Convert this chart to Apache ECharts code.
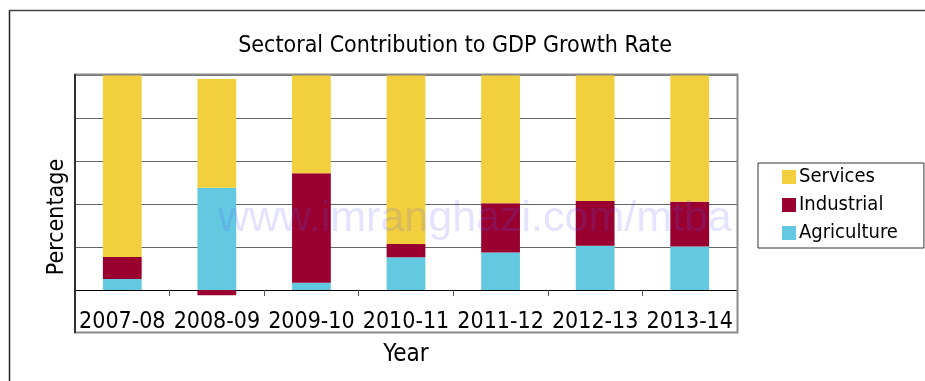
<!DOCTYPE html>
<html>
<head>
<meta charset="utf-8">
<script src="https://cdn.jsdelivr.net/npm/echarts@6/dist/echarts.min.js"></script>
<style>
  html, body { margin: 0; padding: 0; background: #fff; }
  #chart { width: 925px; height: 381px; }
</style>
</head>
<body>
<div id="chart"></div>
<script>
// Fiscal years on the category axis
var years = ['2007-08', '2008-09', '2009-10', '2010-11', '2011-12', '2012-13', '2013-14'];

// Share of GDP growth by sector (percent)
var agriculture = [5.1, 47.6, 3.4, 15.2, 17.4, 20.6, 20.2];
var industrial  = [10.2, -2.4, 50.9, 6.2, 22.9, 20.8, 20.9];
var services    = [84.7, 50.5, 45.7, 78.6, 59.7, 58.6, 58.9];

// Value axis range and step
var yMin = 0, yMax = 100, yStep = 20;

var NARROW = "'Liberation Sans Narrow', 'DejaVu Sans Condensed', 'Arial Narrow', sans-serif";
var COLORS = { services: '#F2CF3D', industrial: '#990030', agriculture: '#63C9E1' };

var chart = echarts.init(document.getElementById('chart'), null, { renderer: 'canvas' });

var barBase = { type: 'bar', stack: 'total', barWidth: '41%', clip: false };

chart.setOption({
  animation: false,
  backgroundColor: '#fff',
  title: {
    text: 'Sectoral Contribution to GDP Growth Rate',
    left: 450, textAlign: 'center', top: 30,
    textStyle: { fontFamily: NARROW, fontSize: 23, fontWeight: 'normal', color: '#000' }
  },
  legend: {
    data: ['Services', 'Industrial', 'Agriculture'],
    orient: 'vertical',
    left: 758, top: 163,
    padding: [4, 26, 5, 24],
    itemWidth: 14, itemHeight: 14, itemGap: 8,
    icon: 'rect',
    borderColor: '#333', borderWidth: 1,
    textStyle: { fontFamily: NARROW, fontSize: 20, lineHeight: 20, color: '#000', padding: [0, 0, 0, -2] }
  },
  grid: { left: 75, right: 188, top: 75, bottom: 91, containLabel: false },
  xAxis: {
    type: 'category',
    data: years,
    name: 'Year', nameLocation: 'middle', nameGap: 53,
    nameTextStyle: { fontFamily: NARROW, fontSize: 24, color: '#000' },
    axisLine: { onZero: true, lineStyle: { color: '#000', width: 1 } },
    axisTick: { show: true, length: 6, lineStyle: { color: '#555' } },
    axisLabel: { interval: 0, hideOverlap: false, margin: 21, fontFamily: NARROW, fontSize: 23, color: '#000' }
  },
  yAxis: {
    type: 'value',
    min: yMin, max: yMax, interval: yStep,
    axisLine: { show: false },
    axisTick: { show: false },
    axisLabel: { show: false },
    splitLine: { lineStyle: { color: '#666', width: 1 } }
  },
  series: [
    Object.assign({ name: 'Agriculture', data: agriculture, itemStyle: { color: COLORS.agriculture } }, barBase),
    Object.assign({ name: 'Industrial', data: industrial, itemStyle: { color: COLORS.industrial } }, barBase),
    Object.assign({ name: 'Services', data: services, itemStyle: { color: COLORS.services } }, barBase)
  ],
  graphic: [
    // outer chart border (only top and left fall inside the canvas)
    { type: 'line', shape: { x1: 9.5, y1: 10, x2: 9.5, y2: 381 }, style: { stroke: '#222', lineWidth: 1.5 }, silent: true },
    { type: 'line', shape: { x1: 9, y1: 10.5, x2: 925, y2: 10.5 }, style: { stroke: '#444', lineWidth: 1.5 }, silent: true },
    // plot frame around bars and category labels
    { type: 'rect', shape: { x: 75, y: 74.5, width: 662.5, height: 258 }, style: { fill: 'none', stroke: '#8a8a8a', lineWidth: 2 }, z: 50, silent: true },
    { type: 'line', shape: { x1: 75, y1: 74, x2: 75, y2: 333 }, style: { stroke: '#111', lineWidth: 1.5 }, z: 51, silent: true },
    // value axis title
    { type: 'text', x: 57, y: 217, rotation: Math.PI / 2, z: 55, silent: true,
      style: { text: 'Percentage', font: '23px ' + NARROW, fill: '#000', textAlign: 'center', textVerticalAlign: 'middle' } },
    // site watermark
    { type: 'text', x: 218, y: 241, z: 60, silent: true,
      style: { text: 'www.imranghazi.com/mtba', font: '43px "Liberation Sans", Arial, sans-serif', fill: 'rgba(90, 90, 255, 0.17)', textVerticalAlign: 'bottom' } }
  ]
});
</script>
</body>
</html>
